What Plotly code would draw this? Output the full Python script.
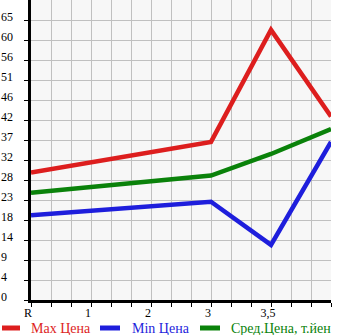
import plotly.graph_objects as go

categories = ["R", "1", "2", "3", "3,5", ""]
point_idx = [0, 3, 4, 5]
max_price = [29.6, 36.7, 62.7, 42.6]
min_price = [19.7, 22.8, 12.8, 36.7]
avg_price = [24.9, 28.9, 33.9, 39.7]
y_tick_labels = ["0", "4", "9", "14", "18", "23", "28", "32", "37", "42", "46", "51", "56", "60", "65"]
series_names = ["Max Цена", "Min Цена", "Сред.Цена, т.йен"]
colors = ["#dd1e1e", "#1e1edc", "#0a820a"]

y_step = 65 / 14
y_vals = [i * y_step for i in range(len(y_tick_labels))]
x_grid = [i / 3 for i in range(0, 16)]
x_text = [categories[int(round(v))] if abs(v - round(v)) < 1e-6 else "" for v in x_grid]

W, H = 345, 335
L, R_, T, B = 31, 14, 0, 35
pw, ph = W - L - R_, H - T - B

fig = go.Figure()
for vals, name, c in zip([max_price, min_price, avg_price], series_names, colors):
    fig.add_trace(go.Scatter(x=point_idx, y=vals, mode="lines", name=name,
                             line=dict(color=c, width=4.5), showlegend=False))

font_fam = "Liberation Serif"
# y tick labels (left aligned)
for v, t in zip(y_vals, y_tick_labels):
    fig.add_annotation(x=(0 - L) / pw, xref="paper", y=v, yref="y", text=t,
                       showarrow=False, xanchor="left", yanchor="middle", yshift=3,
                       xshift=-1,
                       font=dict(family=font_fam, size=12, color="#000000"))

# legend
def px_x(x):
    return (x - L) / pw

def px_y(y):
    return (T + ph - y) / ph

leg_y = 328
leg_items = [(0, 22, 29), (98, 122, 130), (198, 222, 229)]
for (x0, x1, tx), name, c in zip(leg_items, series_names, colors):
    fig.add_shape(type="line", xref="paper", yref="paper", x0=px_x(x0 + 2), x1=px_x(x1 - 2),
                  y0=px_y(leg_y), y1=px_y(leg_y), line=dict(color=c, width=5))
    fig.add_annotation(x=px_x(tx), xref="paper", y=px_y(leg_y), yref="paper", text=name,
                       showarrow=False, xanchor="left", yanchor="middle",
                       font=dict(family=font_fam, size=14, color=c))

fig.update_xaxes(range=[0, 5], tickvals=x_grid, ticktext=x_text, showgrid=True,
                 gridcolor="#c0c0c0", gridwidth=1, showline=True, linecolor="#000000",
                 linewidth=3, ticks="outside", ticklen=4, tickcolor="#000000",
                 tickfont=dict(family=font_fam, size=12, color="#000000"),
                 ticklabelshift=-3, ticklabelstandoff=-4, zeroline=False, fixedrange=True)
fig.update_yaxes(range=[0, 65 * 15 / 14], tickvals=y_vals, showticklabels=False,
                 showgrid=True, gridcolor="#c0c0c0", gridwidth=1, showline=True,
                 linecolor="#000000", linewidth=3, ticks="outside", ticklen=4,
                 tickcolor="#000000", zeroline=False, fixedrange=True)

fig.update_layout(width=W, height=H, margin=dict(l=L, r=R_, t=T, b=B, pad=0),
                  plot_bgcolor="#f7f7f7", paper_bgcolor="#ffffff", showlegend=False)

fig.write_html("out.html", config={"displayModeBar": False})
